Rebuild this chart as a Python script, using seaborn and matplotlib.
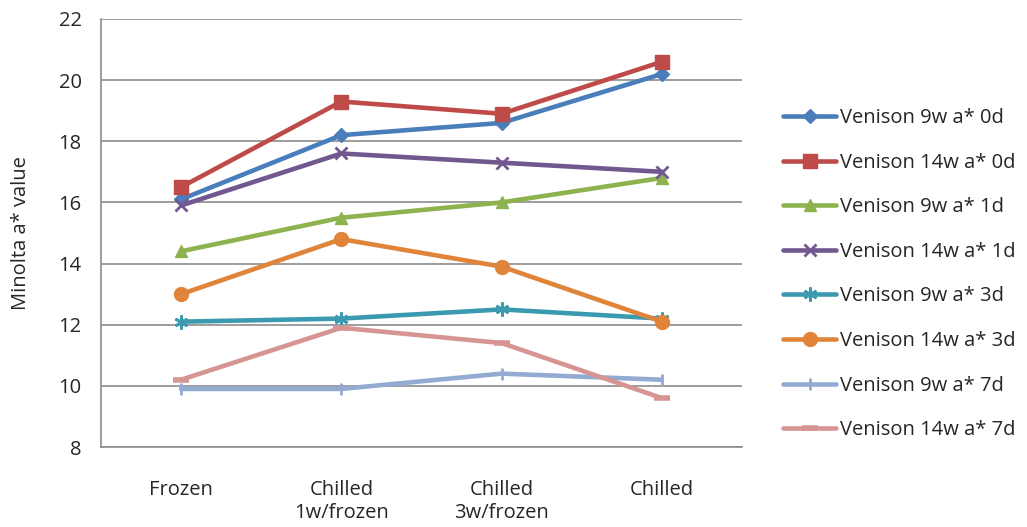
import matplotlib
matplotlib.use("Agg")
import matplotlib.pyplot as plt
import seaborn as sns
import pandas as pd
from matplotlib.lines import Line2D

categories = ["Frozen", "Chilled\n1w/frozen", "Chilled\n3w/frozen", "Chilled"]
series_names = [
    "Venison 9w a* 0d", "Venison 14w a* 0d", "Venison 9w a* 1d", "Venison 14w a* 1d",
    "Venison 9w a* 3d", "Venison 14w a* 3d", "Venison 9w a* 7d", "Venison 14w a* 7d",
]
v9w_0d = [16.1, 18.2, 18.6, 20.2]
v14w_0d = [16.5, 19.3, 18.9, 20.6]
v9w_1d = [14.4, 15.5, 16.0, 16.8]
v14w_1d = [15.9, 17.6, 17.3, 17.0]
v9w_3d = [12.1, 12.2, 12.5, 12.2]
v14w_3d = [13.0, 14.8, 13.9, 12.1]
v9w_7d = [9.9, 9.9, 10.4, 10.2]
v14w_7d = [10.2, 11.9, 11.4, 9.6]
values = [v9w_0d, v14w_0d, v9w_1d, v14w_1d, v9w_3d, v14w_3d, v9w_7d, v14w_7d]

colors = ["#4A7EBB", "#BE4B48", "#8DB24E", "#71588F", "#3C9AB0", "#E0843A", "#93AAD3", "#D69593"]
markers = ["D", "s", "^", "x", (6, 2, 0), "o", "|", "_"]
msizes = [7, 10, 9, 9, 10, 10, 9, 12]

rows = []
for name, vals in zip(series_names, values):
    for i, v in enumerate(vals):
        rows.append({"series": name, "x": i, "value": v})
df = pd.DataFrame(rows)

sns.set_style("white")
plt.rcParams["font.family"] = ["Open Sans", "DejaVu Sans"]
FS = 14.5

fig = plt.figure(figsize=(10.27, 5.27), dpi=100)
ax = fig.add_axes([0.0983, 0.1518, 0.6242, 0.8122])

handles = []
for name, c, m, ms in zip(series_names, colors, markers, msizes):
    sub = df[df["series"] == name]
    mew = 2 if m in ("x", "|", "_", (6, 2, 0)) else 1
    if m == "_":
        mew = 4
    sns.lineplot(data=sub, x="x", y="value", ax=ax, color=c, linewidth=3.3,
                 marker=m, markersize=ms, markeredgecolor=c, markerfacecolor=c,
                 markeredgewidth=mew, legend=False)
    handles.append(Line2D([0], [0], color=c, linewidth=3.3, marker=m, markersize=ms,
                          markeredgecolor=c, markerfacecolor=c, markeredgewidth=mew, label=name))

ax.set_xlim(-0.5, 3.5)
ax.set_ylim(8, 22)
ax.set_yticks(range(8, 23, 2))
ax.set_xticks(range(len(categories)))
ax.set_xticklabels(categories, fontsize=FS, linespacing=1.15)
ax.tick_params(axis="y", labelsize=FS, length=0, pad=14)
ax.tick_params(axis="x", length=0, pad=24)
ax.set_xlabel("")
ax.set_ylabel("Minolta a* value", fontsize=FS, labelpad=20)
ax.yaxis.grid(True, color="#8C8C8C", linewidth=1.2)
ax.xaxis.grid(False)
for s in ["top", "right"]:
    ax.spines[s].set_visible(False)
for s in ["left", "bottom"]:
    ax.spines[s].set_color("#8C8C8C")
    ax.spines[s].set_linewidth(1.2)

fig.legend(handles=handles, loc="upper left", bbox_to_anchor=(0.755, 0.81),
           frameon=False, fontsize=FS, handlelength=2.6, handletextpad=0.2,
           labelspacing=1.22, borderaxespad=0)

fig.savefig("out.png", dpi=100)
